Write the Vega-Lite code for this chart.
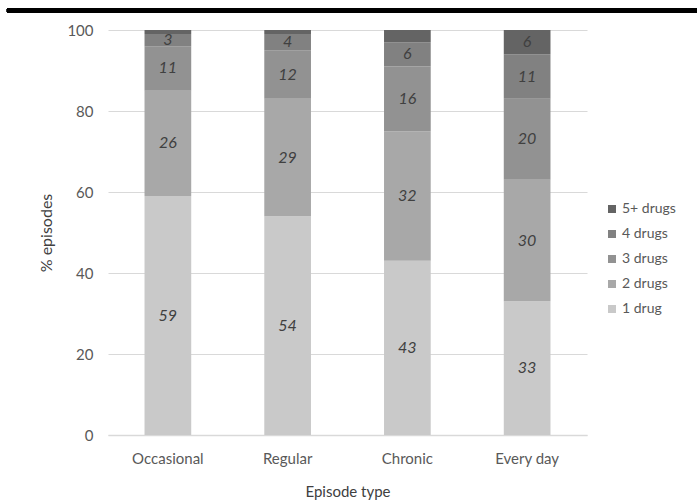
{
  "$schema": "https://vega.github.io/schema/vega-lite/v6.json",
  "width": 479,
  "height": 405,
  "autosize": {"type": "none"},
  "padding": {"left": 108, "top": 30, "right": 110, "bottom": 69},
  "background": "white",
  "config": {
    "view": {"stroke": null},
    "font": "Lato",
    "axis": {"labelFont": "Lato", "titleFont": "Lato"},
    "legend": {"labelFont": "Lato"}
  },
  "data": {
    "values": [
      {"episode": "Occasional", "drugs": "1 drug", "n": 1, "pct": 59},
      {"episode": "Occasional", "drugs": "2 drugs", "n": 2, "pct": 26},
      {"episode": "Occasional", "drugs": "3 drugs", "n": 3, "pct": 11},
      {"episode": "Occasional", "drugs": "4 drugs", "n": 4, "pct": 3},
      {"episode": "Occasional", "drugs": "5+ drugs", "n": 5, "pct": 1},
      {"episode": "Regular", "drugs": "1 drug", "n": 1, "pct": 54},
      {"episode": "Regular", "drugs": "2 drugs", "n": 2, "pct": 29},
      {"episode": "Regular", "drugs": "3 drugs", "n": 3, "pct": 12},
      {"episode": "Regular", "drugs": "4 drugs", "n": 4, "pct": 4},
      {"episode": "Regular", "drugs": "5+ drugs", "n": 5, "pct": 1},
      {"episode": "Chronic", "drugs": "1 drug", "n": 1, "pct": 43},
      {"episode": "Chronic", "drugs": "2 drugs", "n": 2, "pct": 32},
      {"episode": "Chronic", "drugs": "3 drugs", "n": 3, "pct": 16},
      {"episode": "Chronic", "drugs": "4 drugs", "n": 4, "pct": 6},
      {"episode": "Chronic", "drugs": "5+ drugs", "n": 5, "pct": 3},
      {"episode": "Every day", "drugs": "1 drug", "n": 1, "pct": 33},
      {"episode": "Every day", "drugs": "2 drugs", "n": 2, "pct": 30},
      {"episode": "Every day", "drugs": "3 drugs", "n": 3, "pct": 20},
      {"episode": "Every day", "drugs": "4 drugs", "n": 4, "pct": 11},
      {"episode": "Every day", "drugs": "5+ drugs", "n": 5, "pct": 6}
    ]
  },
  "resolve": {"scale": {"x": "independent"}},
  "layer": [
    {
      "encoding": {
        "x": {
          "field": "episode",
          "type": "nominal",
          "sort": ["Occasional", "Regular", "Chronic", "Every day"],
          "scale": {"paddingInner": 0.61, "paddingOuter": 0.305},
          "axis": {
            "title": "Episode type",
            "labelAngle": 0,
            "labelFontSize": 15,
            "labelColor": "#595959",
            "labelPadding": 16,
            "ticks": false,
            "tickSize": 0,
            "domainColor": "#d9d9d9",
            "domainWidth": 1.5,
            "titleFontSize": 15,
            "titleFontWeight": "normal",
            "titleColor": "#404040",
            "titlePadding": 18
          }
        }
      },
      "layer": [
        {
          "mark": {"type": "bar"},
          "encoding": {
            "y": {
              "field": "pct",
              "type": "quantitative",
              "stack": "zero",
              "scale": {"domain": [0, 100], "nice": false},
              "axis": {
                "title": "% episodes",
                "values": [0, 20, 40, 60, 80, 100],
                "grid": true,
                "gridColor": "#d9d9d9",
                "gridWidth": 1.2,
                "domain": false,
                "ticks": false,
                "tickSize": 0,
                "labelPadding": 15,
                "labelFontSize": 15,
                "labelColor": "#595959",
                "titleFontSize": 16,
                "titleFontWeight": "normal",
                "titleColor": "#404040",
                "titlePadding": 12
              }
            },
            "color": {
              "field": "drugs",
              "type": "nominal",
              "scale": {
                "domain": ["5+ drugs", "4 drugs", "3 drugs", "2 drugs", "1 drug"],
                "range": ["#646464", "#818181", "#929292", "#a8a8a8", "#c9c9c9"]
              },
              "legend": {
                "title": null,
                "orient": "none",
                "legendX": 497,
                "legendY": 172,
                "symbolType": "square",
                "symbolSize": 64,
                "symbolStrokeWidth": 0,
                "labelFontSize": 14,
                "labelColor": "#595959",
                "labelOffset": 3,
                "rowPadding": 11
              }
            },
            "order": {"field": "n", "type": "quantitative", "sort": "ascending"}
          }
        },
        {
          "transform": [{"filter": "datum.drugs != '5+ drugs' || datum.pct >= 5"}],
          "mark": {"type": "text", "fontSize": 16, "fontStyle": "italic", "color": "#404040", "baseline": "middle"},
          "encoding": {
            "y": {"field": "pct", "type": "quantitative", "stack": "zero", "bandPosition": 0.5},
            "detail": {"field": "drugs"},
            "order": {"field": "n", "type": "quantitative", "sort": "ascending"},
            "text": {"field": "pct", "type": "quantitative"}
          }
        }
      ]
    },
    {
      "mark": {"type": "rule", "color": "#000000", "strokeWidth": 3.5, "clip": false},
      "encoding": {
        "x": {"datum": -0.211, "type": "quantitative", "scale": {"domain": [0, 1]}, "axis": null},
        "x2": {"datum": 1.25},
        "y": {"datum": 104.8, "type": "quantitative"}
      }
    }
  ]
}
